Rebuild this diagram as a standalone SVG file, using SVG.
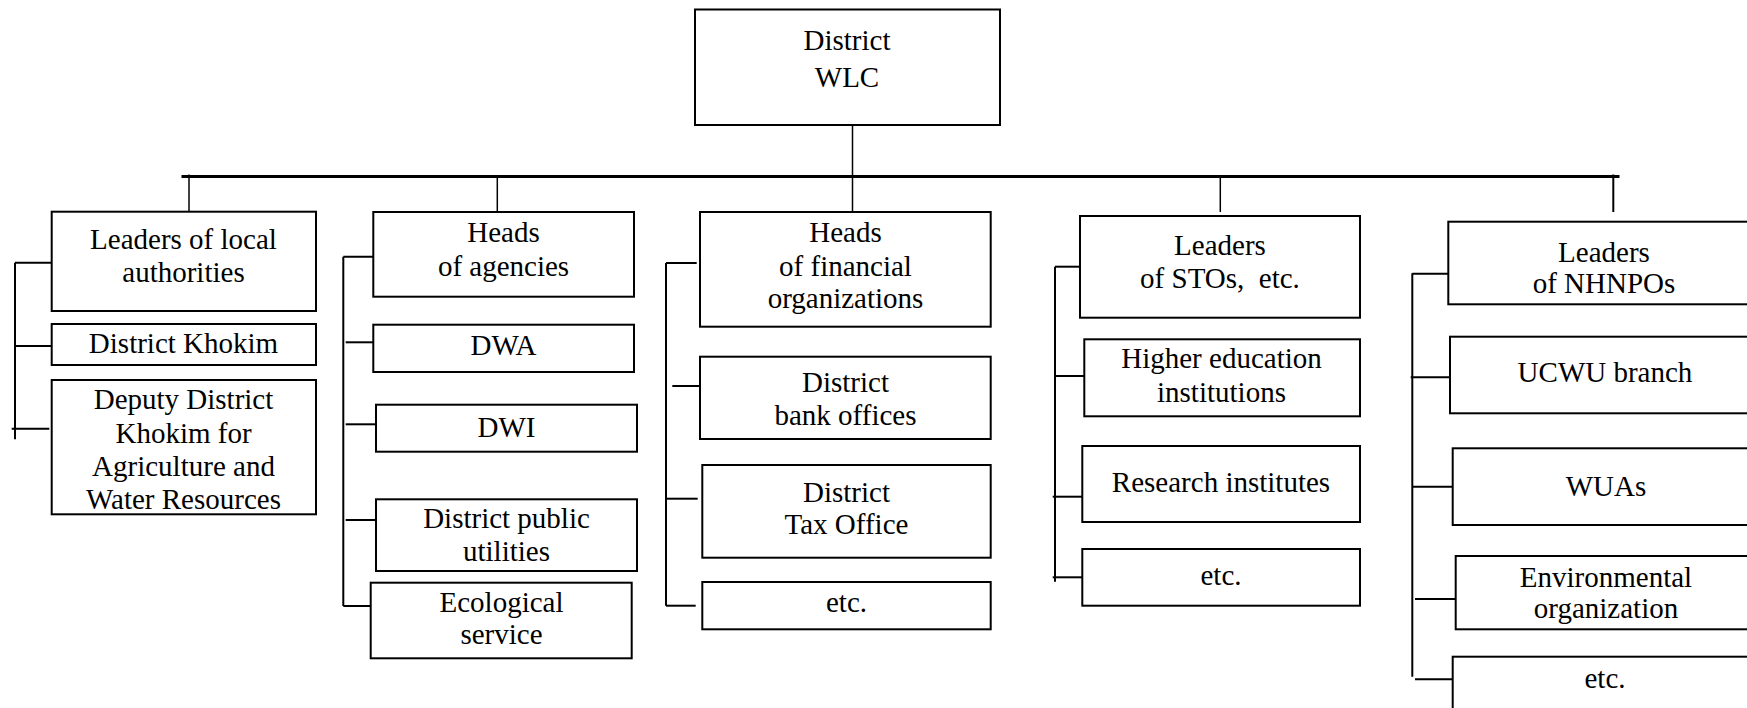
<svg xmlns="http://www.w3.org/2000/svg" width="1747" height="708" viewBox="0 0 1747 708">
  <style>
    .box { fill: #fff; stroke: #000; stroke-width: 2; }
    .lbl { font-family: "Liberation Serif", Tinos, "Times New Roman", Times, "DejaVu Serif", serif; font-size: 29px; fill: #000; text-anchor: middle; }
    .ln { stroke: #000; stroke-width: 2; fill: none; }
    .thin { stroke: #000; stroke-width: 1.5; fill: none; }
    .bus { stroke: #000; stroke-width: 2.8; fill: none; }
  </style>
  <rect width="1747" height="708" fill="#fff"/>

  <!-- connectors -->
  <g id="connectors">
    <line class="thin" x1="852.5" y1="125" x2="852.5" y2="212"/>
    <line class="bus" x1="181.5" y1="176.5" x2="1619.5" y2="176.5"/>
    <line class="thin" x1="189" y1="174.5" x2="189" y2="212"/>
    <line class="thin" x1="497.3" y1="176" x2="497.3" y2="212"/>
    <line class="thin" x1="1220.3" y1="176" x2="1220.3" y2="212"/>
    <line class="ln" x1="1613.3" y1="174.5" x2="1613.3" y2="212"/>

    <!-- column 1 -->
    <line class="ln" x1="15" y1="262.7" x2="15" y2="439.3"/>
    <line class="ln" x1="15" y1="262.7" x2="51.7" y2="262.7"/>
    <line class="ln" x1="15" y1="346" x2="51.7" y2="346"/>
    <line class="ln" x1="11.7" y1="428.7" x2="49.3" y2="428.7"/>

    <!-- column 2 -->
    <line class="ln" x1="343.3" y1="256.7" x2="343.3" y2="606"/>
    <line class="ln" x1="343.3" y1="256.7" x2="375.7" y2="256.7"/>
    <line class="ln" x1="345.7" y1="342.3" x2="375.7" y2="342.3"/>
    <line class="ln" x1="345.7" y1="424.3" x2="376" y2="424.3"/>
    <line class="ln" x1="345.7" y1="520" x2="376" y2="520"/>
    <line class="ln" x1="343.3" y1="606" x2="371.7" y2="606"/>

    <!-- column 3 -->
    <line class="ln" x1="666" y1="263" x2="666" y2="605.7"/>
    <line class="ln" x1="666" y1="263" x2="696.7" y2="263"/>
    <line class="ln" x1="672.3" y1="386" x2="701.7" y2="386"/>
    <line class="ln" x1="666" y1="498.7" x2="697.7" y2="498.7"/>
    <line class="ln" x1="666" y1="605.7" x2="695.7" y2="605.7"/>

    <!-- column 4 -->
    <line class="ln" x1="1055" y1="266.7" x2="1055" y2="581.7"/>
    <line class="ln" x1="1055" y1="266.7" x2="1084.3" y2="266.7"/>
    <line class="ln" x1="1055" y1="376" x2="1084.3" y2="376"/>
    <line class="ln" x1="1052.7" y1="496.7" x2="1082.3" y2="496.7"/>
    <line class="ln" x1="1052.7" y1="577.3" x2="1082.3" y2="577.3"/>

    <!-- column 5 -->
    <line class="ln" x1="1412.3" y1="273.3" x2="1412.3" y2="676.7"/>
    <line class="ln" x1="1412.3" y1="273.7" x2="1448.3" y2="273.7"/>
    <line class="ln" x1="1410.7" y1="377.3" x2="1450" y2="377.3"/>
    <line class="ln" x1="1412.3" y1="486.7" x2="1452.7" y2="486.7"/>
    <line class="ln" x1="1415" y1="599" x2="1455.7" y2="599"/>
    <line class="ln" x1="1415" y1="679.3" x2="1452.7" y2="679.3"/>
  </g>

  <g font-family="Liberation Serif, Times New Roman, serif">
  <!-- root -->
  <g id="district-wlc">
    <rect class="box" x="695" y="9.5" width="305" height="115.5"/>
    <text class="lbl" x="847" y="50">District</text>
    <text class="lbl" x="847" y="87">WLC</text>
  </g>

  <!-- column 1 -->
  <g id="leaders-local-authorities">
    <rect class="box" x="51.7" y="211.7" width="264.3" height="99.3"/>
    <text class="lbl" x="183.5" y="249">Leaders of local</text>
    <text class="lbl" x="183.5" y="281.7">authorities</text>
  </g>
  <g id="district-khokim">
    <rect class="box" x="51.7" y="324" width="264.3" height="41"/>
    <text class="lbl" x="183.5" y="353.3">District Khokim</text>
  </g>
  <g id="deputy-khokim">
    <rect class="box" x="51.7" y="380" width="264.3" height="134.3"/>
    <text class="lbl" x="183.5" y="409.3">Deputy District</text>
    <text class="lbl" x="183.5" y="442.7">Khokim for</text>
    <text class="lbl" x="183.5" y="476">Agriculture and</text>
    <text class="lbl" x="183.5" y="509.3">Water Resources</text>
  </g>

  <!-- column 2 -->
  <g id="heads-agencies">
    <rect class="box" x="373.3" y="212" width="260.7" height="84.7"/>
    <text class="lbl" x="503.5" y="242.3">Heads</text>
    <text class="lbl" x="503.5" y="275.7">of agencies</text>
  </g>
  <g id="dwa">
    <rect class="box" x="373.3" y="324.7" width="260.7" height="47.3"/>
    <text class="lbl" x="503.5" y="355">DWA</text>
  </g>
  <g id="dwi">
    <rect class="box" x="376" y="404.7" width="261" height="47"/>
    <text class="lbl" x="506.5" y="436.7">DWI</text>
  </g>
  <g id="public-utilities">
    <rect class="box" x="376" y="499.3" width="261" height="71.7"/>
    <text class="lbl" x="506.5" y="528.3">District public</text>
    <text class="lbl" x="506.5" y="561">utilities</text>
  </g>
  <g id="ecological-service">
    <rect class="box" x="370.7" y="582.7" width="261" height="75.6"/>
    <text class="lbl" x="501.5" y="611.7">Ecological</text>
    <text class="lbl" x="501.5" y="644.3">service</text>
  </g>

  <!-- column 3 -->
  <g id="heads-financial">
    <rect class="box" x="700" y="212" width="290.7" height="114.7"/>
    <text class="lbl" x="845.5" y="242.3">Heads</text>
    <text class="lbl" x="845.5" y="275.7">of financial</text>
    <text class="lbl" x="845.5" y="308.3">organizations</text>
  </g>
  <g id="bank-offices">
    <rect class="box" x="700" y="356.7" width="290.7" height="82.3"/>
    <text class="lbl" x="845.5" y="392.3">District</text>
    <text class="lbl" x="845.5" y="425">bank offices</text>
  </g>
  <g id="tax-office">
    <rect class="box" x="702.3" y="465" width="288.4" height="92.7"/>
    <text class="lbl" x="846.5" y="501.7">District</text>
    <text class="lbl" x="846.5" y="534.3">Tax Office</text>
  </g>
  <g id="financial-etc">
    <rect class="box" x="702.3" y="582" width="288.4" height="47.3"/>
    <text class="lbl" x="846.5" y="611.7">etc.</text>
  </g>

  <!-- column 4 -->
  <g id="leaders-stos">
    <rect class="box" x="1080" y="216" width="280" height="101.7"/>
    <text class="lbl" x="1220" y="255">Leaders</text>
    <text class="lbl" x="1220" y="288.3" xml:space="preserve">of STOs,  etc.</text>
  </g>
  <g id="higher-education">
    <rect class="box" x="1084.3" y="339.3" width="275.7" height="77"/>
    <text class="lbl" x="1221.5" y="368.3">Higher education</text>
    <text class="lbl" x="1221.5" y="401.7">institutions</text>
  </g>
  <g id="research-institutes">
    <rect class="box" x="1082.3" y="446" width="277.7" height="76"/>
    <text class="lbl" x="1221" y="491.7">Research institutes</text>
  </g>
  <g id="sto-etc">
    <rect class="box" x="1082.3" y="549" width="277.7" height="56.7"/>
    <text class="lbl" x="1221" y="585">etc.</text>
  </g>

  <!-- column 5 -->
  <g id="leaders-nhnpos">
    <rect class="box" x="1448.3" y="221.7" width="320" height="82.6"/>
    <text class="lbl" x="1604" y="261.7">Leaders</text>
    <text class="lbl" x="1604" y="293.3">of NHNPOs</text>
  </g>
  <g id="ucwu-branch">
    <rect class="box" x="1450" y="336.7" width="320" height="76.6"/>
    <text class="lbl" x="1605" y="381.7">UCWU branch</text>
  </g>
  <g id="wuas">
    <rect class="box" x="1452.7" y="448.3" width="320" height="76.7"/>
    <text class="lbl" x="1606" y="496">WUAs</text>
  </g>
  <g id="environmental-organization">
    <rect class="box" x="1455.7" y="556" width="320" height="73.3"/>
    <text class="lbl" x="1606" y="586.7">Environmental</text>
    <text class="lbl" x="1606" y="618.3">organization</text>
  </g>
  <g id="nhnpo-etc">
    <rect class="box" x="1452.7" y="656.7" width="320" height="80"/>
    <text class="lbl" x="1605" y="688.3">etc.</text>
  </g>
  </g>
</svg>
